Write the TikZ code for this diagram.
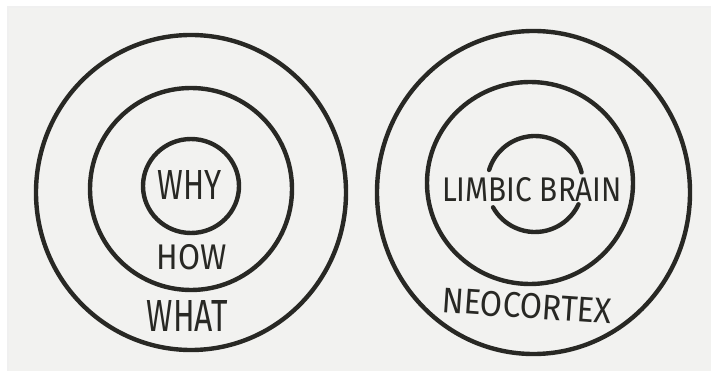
\documentclass[tikz,border=0pt]{standalone}
\usepackage{fontspec}
\newfontfamily\handfont{Fira Sans}
\usepackage{graphicx}
\usetikzlibrary{calc}
\definecolor{pagegray}{RGB}{242,242,240}
\definecolor{ink}{RGB}{40,40,36}
\newcommand{\handtext}[3]{\resizebox{#1pt}{#2pt}{\handfont #3}}
\begin{document}
\begin{tikzpicture}[x=1pt,y=-1pt,
  ring/.style={draw=ink,line width=4.4pt,line cap=round},
  word/.style={inner sep=0pt,text=ink}]
\useasboundingbox (0,0) rectangle (711,371);
\fill[white] (0,0) rectangle (711,371);
\fill[black!6] (6.5,6.5) rectangle (711,371);
\fill[pagegray] (8.5,8.5) rectangle (711,371);
% left target
\coordinate (lo) at (191,192.5);
\coordinate (lm) at (191,189);
\coordinate (li) at (191,186);
\draw[ring] (lo) ellipse[x radius=155, y radius=157.5];
\draw[ring] (lm) ellipse[x radius=101, y radius=101];
\draw[ring] (li) ellipse[x radius=48, y radius=47];
\node[word] (why) at (190,185) {\handtext{64}{29}{WHY}};
\node[word] (how) at (192,257.5) {\handtext{70}{25}{HOW}};
\node[word] (what) at (187.5,316) {\handtext{81}{31}{WHAT}};
% right target
\coordinate (ro) at (533.5,192.5);
\coordinate (rm) at (530,183);
\coordinate (rc) at (535,184);
\draw[ring] (ro) ellipse[x radius=156.5, y radius=161.5];
\draw[ring] (rm) ellipse[x radius=103, y radius=101];
\draw[ring] ($(rc)+(-14:48)$) arc[start angle=-14, end angle=-163, radius=48];
\draw[ring] ($(rc)+(25:48)$) arc[start angle=25, end angle=151, radius=48];
\node[word] (limbic) at (532,190) {\handtext{180}{24}{LIMBIC BRAIN}};
\node[word,rotate=-4] (neo) at (527,306) {\handtext{170}{25}{NEOCORTEX}};
\end{tikzpicture}
\end{document}
